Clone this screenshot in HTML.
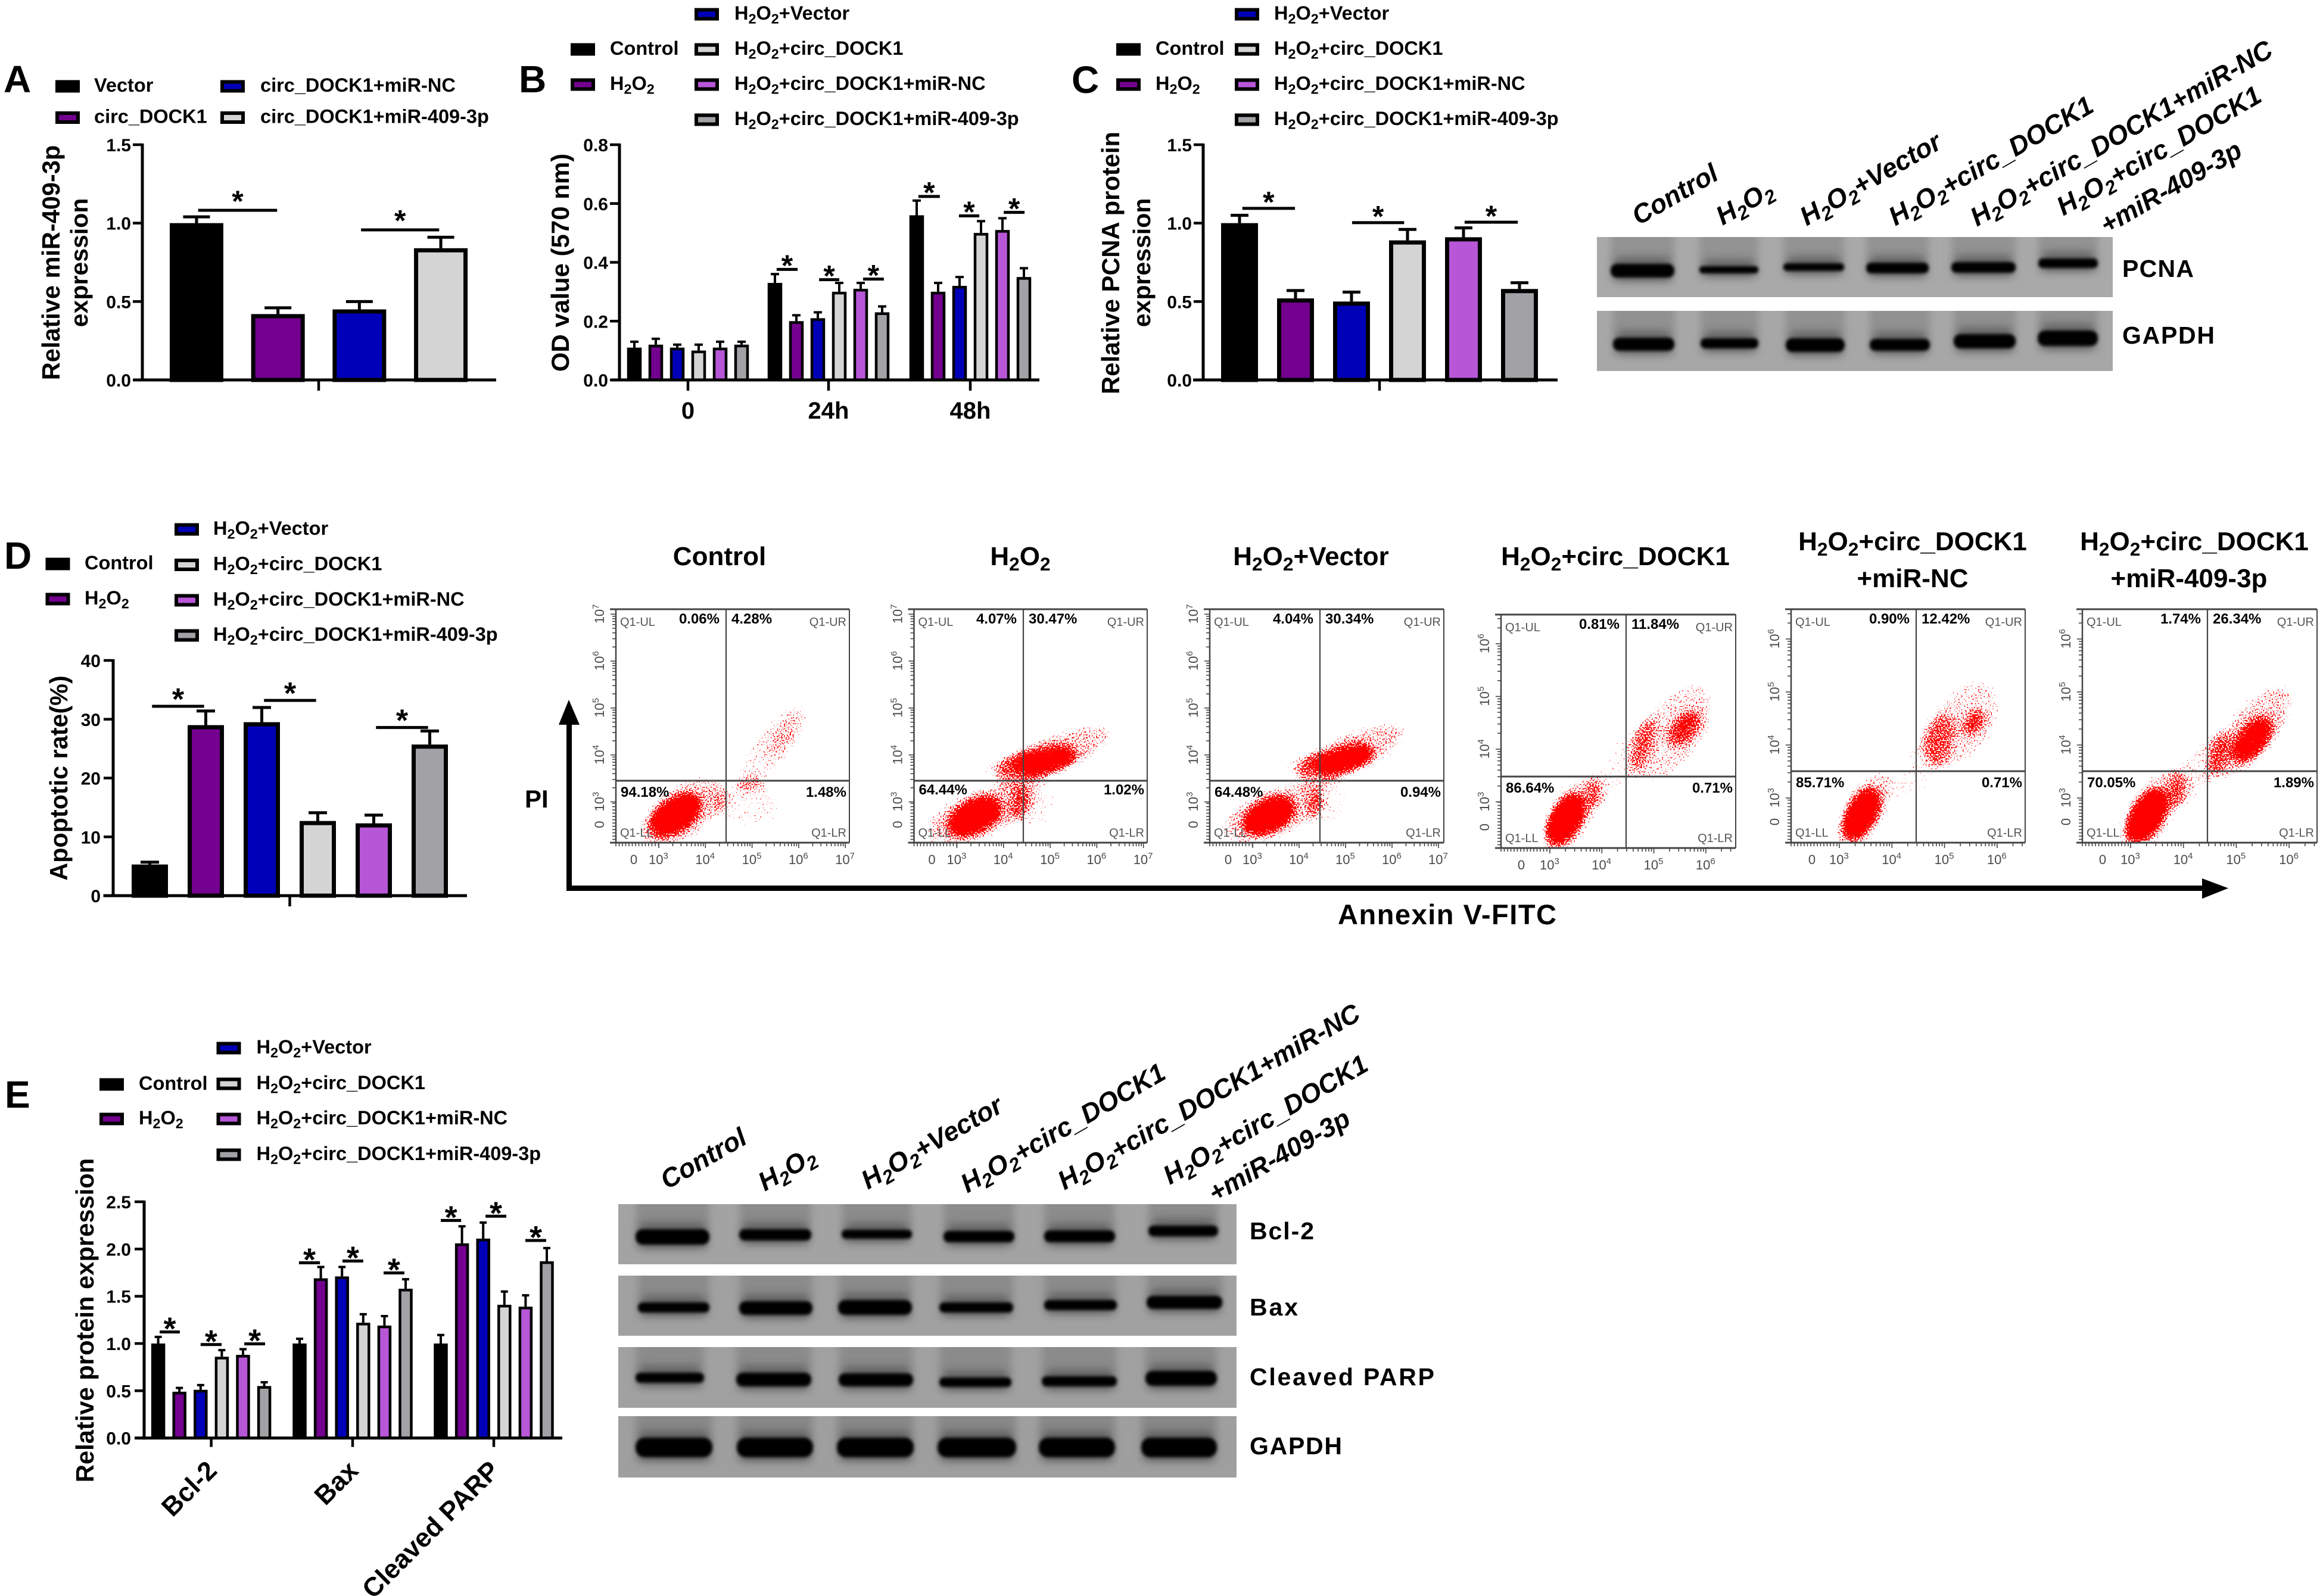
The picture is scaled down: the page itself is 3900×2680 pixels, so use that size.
<!DOCTYPE html>
<html lang="en">
<head>
<meta charset="utf-8">
<title>circ_DOCK1 and miR-409-3p composite figure</title>
<style>
html,body{margin:0;padding:0;background:#fff}
svg{display:block;font-family:"Liberation Sans",Arial,sans-serif}
</style>
</head>
<body>
<svg id="fig" xmlns="http://www.w3.org/2000/svg" width="3900" height="2680" viewBox="0 0 3900 2680">
<defs>
<filter id="speckle" x="-15%" y="-15%" width="130%" height="130%" color-interpolation-filters="sRGB">
<feGaussianBlur in="SourceAlpha" stdDeviation="9" result="d"/>
<feTurbulence type="fractalNoise" baseFrequency="0.42" numOctaves="1" seed="7" result="t"/>
<feColorMatrix in="t" type="matrix" values="0 0 0 0 0 0 0 0 0 0 0 0 0 0 0 1 0 0 0 0" result="n"/>
<feComposite in="d" in2="n" operator="arithmetic" k1="0" k2="1" k3="1" k4="-1.0" result="m"/>
<feComponentTransfer in="m" result="mm"><feFuncA type="linear" slope="14" intercept="0"/></feComponentTransfer>
<feFlood flood-color="#ff0000"/>
<feComposite in2="mm" operator="in"/>
</filter>
<filter id="blurBand" x="-20%" y="-60%" width="140%" height="220%"><feGaussianBlur stdDeviation="2.6"/></filter>
<filter id="blurGlow" x="-30%" y="-100%" width="160%" height="300%"><feGaussianBlur stdDeviation="7"/></filter>
<filter id="blurLane" x="-30%" y="-30%" width="160%" height="160%"><feGaussianBlur stdDeviation="6"/></filter>
</defs>
<rect x="0" y="0" width="3900" height="2680" fill="#ffffff"/>
<text x="6" y="155" font-size="64" font-weight="700">A</text>
<text x="871" y="155" font-size="64" font-weight="700">B</text>
<text x="1799" y="156" font-size="64" font-weight="700">C</text>
<text x="7" y="955" font-size="64" font-weight="700">D</text>
<text x="8" y="1860" font-size="64" font-weight="700">E</text>
<g>
<rect x="951" y="1205" width="9" height="291" fill="#000"/>
<polygon points="955,1175 973,1217 938,1217" fill="#000"/>
</g>
<g>
<rect x="951" y="1487" width="2750" height="9" fill="#000"/>
<polygon points="3741,1491.5 3697,1475 3697,1509" fill="#000"/>
</g>
<text x="881" y="1356" font-size="42" font-weight="700">PI</text>
<text x="2246" y="1552" font-size="47" font-weight="700" textLength="367">Annexin V-FITC</text>
<g id="charts"></g>
<g id="flows"></g>
<g id="blots"></g>
</svg>
<script>
/* ---------- shared series ---------- */
const seriesNames = ["Control","H2O2","H2O2+Vector","H2O2+circ_DOCK1","H2O2+circ_DOCK1+miR-NC","H2O2+circ_DOCK1+miR-409-3p"];
const seriesColors = ["#000000","#73008f","#0000b8","#d4d4d4","#b856d8","#a2a2a6"];
const aNames = ["Vector","circ_DOCK1","circ_DOCK1+miR-NC","circ_DOCK1+miR-409-3p"];

/* ---------- panel A ---------- */
const aTicks = ["0.0","0.5","1.0","1.5"];
const aValues = [1.0,0.42,0.45,0.84];
const aErrTops = [1.04,0.46,0.50,0.91];
const aSig = [[0,0.02,0.99,1.082],[0,2.02,2.98,0.957]];

/* ---------- panel B ---------- */
const bTicks = ["0.0","0.2","0.4","0.6","0.8"];
const bCats = ["0","24h","48h"];
const bValues = [[0.11,0.12,0.11,0.10,0.11,0.12],[0.33,0.20,0.21,0.30,0.31,0.23],[0.56,0.30,0.32,0.50,0.51,0.35]];
const bErrTops = [[0.13,0.14,0.12,0.12,0.13,0.13],[0.36,0.22,0.23,0.33,0.33,0.25],[0.61,0.33,0.35,0.54,0.55,0.38]];
const bSig = [[1,0.08,1.06,0.376],[1,2.06,3.0,0.341],[1,4.11,5.08,0.343],[2,0.08,1.08,0.624],[2,1.97,2.92,0.558],[2,4.06,5.03,0.570]];

/* ---------- panel C ---------- */
const cTicks = ["0.0","0.5","1.0","1.5"];
const cValues = [1.0,0.52,0.50,0.89,0.91,0.58];
const cErrTops = [1.05,0.57,0.56,0.96,0.97,0.62];
const cSig = [[0,0.05,0.99,1.094],[0,2.01,2.94,1.003],[0,4.02,4.97,1.006]];

/* ---------- panel D ---------- */
const dTicks = ["0","10","20","30","40"];
const dValues = [5.3,29,29.5,12.7,12.3,25.7];
const dErrTops = [5.7,31.4,32,14.1,13.7,28];
const dSig = [[0,0.04,0.97,32.2],[0,2.04,2.97,33.2],[0,4.04,4.97,28.6]];

/* ---------- panel E ---------- */
const eTicks = ["0.0","0.5","1.0","1.5","2.0","2.5"];
const eCats = ["Bcl-2","Bax","Cleaved PARP"];
const eValues = [[1.0,0.49,0.51,0.86,0.88,0.55],[1.0,1.69,1.71,1.22,1.19,1.58],[1.0,2.06,2.11,1.41,1.39,1.87]];
const eErrTops = [[1.07,0.53,0.56,0.93,0.94,0.59],[1.05,1.81,1.81,1.31,1.29,1.68],[1.09,2.24,2.28,1.55,1.51,2.01]];
const eSig = [[0,0.07,1.02,1.122],[0,2.0,2.99,0.989],[0,4.06,5.04,0.996],[1,-0.03,0.96,1.854],[1,2.02,3.0,1.873],[1,3.96,4.94,1.747],[2,0,0.96,2.302],[2,2.11,3.09,2.347],[2,3.99,4.97,2.09]];

/* ---------- flow cytometry: gate percentages [UL,UR,LL,LR] ---------- */
const flowTitles = [["Control"],["H2O2"],["H2O2+Vector"],["H2O2+circ_DOCK1"],["H2O2+circ_DOCK1","+miR-NC"],["H2O2+circ_DOCK1","+miR-409-3p"]];
const flowPct = [["0.06%","4.28%","94.18%","1.48%"],["4.07%","30.47%","64.44%","1.02%"],["4.04%","30.34%","64.48%","0.94%"],["0.81%","11.84%","86.64%","0.71%"],["0.90%","12.42%","85.71%","0.71%"],["1.74%","26.34%","70.05%","1.89%"]];
/* density clusters: [log10 x, log10 y, x spread, y spread, tilt deg, density] */
const flowClusters = [
 [[3.36,2.72,0.58,0.30,-35,1],[3.50,2.78,1.10,0.60,-35,0.44],[5.45,4.20,1.20,0.46,-52,0.37],[5.70,4.40,0.50,0.20,-50,0.16],[4.98,2.92,0.75,0.55,0,0.33]],
 [[3.38,2.69,0.58,0.29,-28,1],[3.45,2.72,1.25,0.58,-22,0.44],[4.90,3.87,0.66,0.24,-15,0.80],[5.10,4.02,1.35,0.48,-22,0.44],[4.10,3.81,0.65,0.24,-15,0.38],[4.68,2.92,0.55,0.55,0,0.33]],
 [[3.35,2.71,0.56,0.29,-28,1],[3.42,2.74,1.20,0.58,-22,0.44],[4.97,3.90,0.64,0.24,-18,0.80],[5.15,4.05,1.30,0.48,-24,0.44],[4.15,3.81,0.55,0.24,-15,0.38],[4.68,2.92,0.50,0.55,0,0.32]],
 [[3.30,2.67,0.50,0.25,-60,1],[3.40,2.75,0.90,0.46,-60,0.42],[5.59,4.40,0.40,0.22,-50,0.50],[5.37,4.33,1.15,0.62,-55,0.39],[4.37,3.72,1.05,0.38,-55,0.33]],
 [[3.42,2.70,0.50,0.24,-62,1],[3.48,2.76,0.90,0.44,-60,0.42],[5.56,4.43,0.28,0.15,-60,0.50],[5.34,4.40,1.00,0.62,-55,0.39],[4.63,3.75,0.95,0.38,-60,0.32]],
 [[3.31,2.67,0.54,0.26,-58,1],[3.40,2.75,0.95,0.48,-58,0.42],[5.30,4.10,0.50,0.24,-50,0.72],[5.30,4.26,1.15,0.52,-50,0.42],[4.30,3.55,0.85,0.38,-55,0.36]]
];

/* ---------- helpers ---------- */
const NS = "http://www.w3.org/2000/svg";
const svgRoot = document.getElementById("fig");
const chartsLayer = document.getElementById("charts");
const flowsLayer = document.getElementById("flows");
const blotsLayer = document.getElementById("blots");

function el(tag, attrs, parent){
  const e = document.createElementNS(NS, tag);
  for (const k in attrs) e.setAttribute(k, attrs[k]);
  parent.appendChild(e);
  return e;
}
function rich(e, str, fs){
  const d = fs * 0.2;
  let cur = 0;
  function add(txt, off, small){
    const t = document.createElementNS(NS, "tspan");
    t.textContent = txt;
    if (off !== cur) t.setAttribute("dy", off - cur);
    if (small) t.setAttribute("font-size", fs * 0.72);
    cur = off;
    e.appendChild(t);
  }
  str.split(/(H2O2)/).forEach(function(part){
    if (part === "H2O2"){ add("H",0); add("2",d,true); add("O",0); add("2",d,true); }
    else if (part) add(part,0);
  });
}
function label(parent, x, y, str, fs, opt){
  opt = opt || {};
  const a = {x:x, y:y, "font-size":fs, "font-weight":opt.weight || 700, fill:opt.fill || "#000"};
  if (opt.anchor) a["text-anchor"] = opt.anchor;
  if (opt.rot !== undefined) a.transform = "rotate(" + opt.rot + " " + x + " " + y + ")";
  if (opt.italic) a["font-style"] = "italic";
  if (opt.len) a.textLength = opt.len;
  const t = el("text", a, parent);
  rich(t, str, fs);
  return t;
}
function swatch(parent, x, cy, color){
  const r = el("rect", {x:x+3, y:cy-7.5, width:35, height:15, fill:color, stroke:"#000", "stroke-width":6}, parent);
  return r;
}
function legendEntry(parent, panel, idx, names, colors, x, tx, cy){
  const g = el("g", {}, parent);
  
  
  const s = swatch(g, x, cy, colors[idx]);
  
  
  const t = label(g, tx, cy + 9, names[idx], 32.5);
  
  
}
function legendSix(parent, panel, c1, t1, c2, t2, rows, r1, r2){
  legendEntry(parent, panel, 0, seriesNames, seriesColors, c1, t1, r1);
  legendEntry(parent, panel, 1, seriesNames, seriesColors, c1, t1, r2);
  for (let i = 0; i < 4; i++) legendEntry(parent, panel, i + 2, seriesNames, seriesColors, c2, t2, rows[i]);
}

function barChart(p){
  const g = el("g", {}, chartsLayer);
  
  
  const domainMax = parseFloat(p.ticks[p.ticks.length - 1]);
  const yScale = function(v){ return p.y0 - (v / domainMax) * (p.y0 - p.yTop); };
  const nBars = p.values[0].length;
  const xScale = function(group, j){ return p.centers[group] + (j - (nBars - 1) / 2) * p.spacing; };

  p.values.forEach(function(vals, gi){
    vals.forEach(function(v, j){
      const cx = xScale(gi, j);
      const top = yScale(p.errs[gi][j]);
      const stem = el("line", {x1:cx, x2:cx, y1:yScale(v), y2:top, stroke:"#000", "stroke-width":p.errW}, g);
      
      
      const cap = el("line", {x1:cx - p.capW / 2, x2:cx + p.capW / 2, y1:top, y2:top, stroke:"#000", "stroke-width":p.errW}, g);
      
      
      const h = p.y0 - yScale(v);
      const bar = el("rect", {x:cx - p.barW / 2 + p.sw / 2, y:yScale(v) + p.sw / 2, width:p.barW - p.sw, height:Math.max(h - p.sw / 2, 0), fill:seriesOrder(p, j), stroke:"#000", "stroke-width":p.sw}, g);
      
      
    });
  });

  const yAxis = el("line", {x1:p.axisX, x2:p.axisX, y1:p.yTop - 2, y2:p.y0 + 2.5, stroke:"#000", "stroke-width":5}, g);
  
  
  const xAxis = el("line", {x1:p.xL, x2:p.xR, y1:p.y0, y2:p.y0, stroke:"#000", "stroke-width":5}, g);
  
  

  p.ticks.forEach(function(tk){
    const y = yScale(parseFloat(tk));
    const m = el("line", {x1:p.axisX - 16, x2:p.axisX, y1:y, y2:y, stroke:"#000", "stroke-width":4.5}, g);
    
    
    const t = label(g, p.axisX - p.tickGap, y + 11, tk, 30, {anchor:"end"});
    
    
  });
  p.centers.forEach(function(c, i){
    const m = el("line", {x1:c, x2:c, y1:p.y0, y2:p.y0 + p.xTick, stroke:"#000", "stroke-width":4.5}, g);
    
    
    if (p.cats && p.catRot === undefined){
      const t = label(g, c, p.catY, p.cats[i], 40, {anchor:"middle"});
      
      
    }
    if (p.cats && p.catRot !== undefined){
      const t = label(g, c + 12, p.catY, p.cats[i], 44.5, {anchor:"end", rot:p.catRot});
      
      
    }
  });
  p.sig.forEach(function(s, i){
    const x1 = xScale(s[0], s[1]);
    const x2 = xScale(s[0], s[2]);
    const y = yScale(s[3]);
    const b = el("line", {x1:x1, x2:x2, y1:y, y2:y, stroke:"#000", "stroke-width":5}, g);
    
    
    const st = label(g, (x1 + x2) / 2, y - p.starGap + 0.575 * p.starFs, "*", p.starFs, {anchor:"middle"});
    
    
  });
  p.titles.forEach(function(tl, i){
    const t = label(g, tl[1], tl[2], tl[0], tl[3], {anchor:"middle", rot:-90});
    
    
  });
}
function seriesOrder(p, j){ return seriesColors[j]; }

barChart({id:"a", axisX:239, y0:638, yTop:243, xL:224, xR:833, xTick:18, ticks:aTicks, centers:[535], spacing:136.7, barW:90, sw:7, capW:45, errW:5, values:[aValues], errs:[aErrTops], sig:aSig, starGap:27, starFs:50, tickGap:19, titles:[["Relative miR-409-3p",100,441,41.5],["expression",147,441,41]]});
barChart({id:"b", axisX:1040, y0:638, yTop:243, xL:1026, xR:1745, xTick:18, ticks:bTicks, centers:[1155,1391,1629], spacing:36, barW:24.5, sw:4.5, capW:14, errW:4, values:bValues, errs:bErrTops, sig:bSig, starGap:18, starFs:50, tickGap:19, cats:bCats, catY:703, titles:[["OD value (570 nm)",955,441,42]]});
barChart({id:"c", axisX:2020, y0:638, yTop:243, xL:2003, xR:2615, xTick:18, ticks:cTicks, centers:[2316], spacing:94, barW:62, sw:7, capW:30, errW:5, values:[cValues], errs:[cErrTops], sig:cSig, starGap:22, starFs:50, tickGap:19, titles:[["Relative PCNA protein",1879,441.5,41.7],["expression",1931,441,41]]});
barChart({id:"d", axisX:190, y0:1504, yTop:1109, xL:173.5, xR:784, xTick:18, ticks:dTicks, centers:[486.5], spacing:94, barW:61, sw:7, capW:31, errW:5, values:[dValues], errs:[dErrTops], sig:dSig, starGap:24, starFs:52, tickGap:21, titles:[["Apoptotic rate(%)",113,1306.5,41.3]]});
barChart({id:"e", axisX:242, y0:2414.7, yTop:2018, xL:226, xR:944, xTick:15, ticks:eTicks, centers:[354.6,592,829], spacing:35.6, barW:23.5, sw:4.5, capW:12, errW:4, values:eValues, errs:eErrTops, sig:eSig, starGap:18, starFs:54, tickGap:22, cats:eCats, catRot:-45, catY:2472, titles:[["Relative protein expression",157,2217,41.7]]});

const legendA = el("g", {}, chartsLayer);


legendEntry(legendA, "a", 0, aNames, seriesColors, 93, 158, 145);
legendEntry(legendA, "a", 1, aNames, seriesColors, 93, 158, 197.5);
legendEntry(legendA, "a", 2, aNames, seriesColors, 370, 437, 145);
legendEntry(legendA, "a", 3, aNames, seriesColors, 370, 437, 197.5);
const legendB = el("g", {}, chartsLayer);


legendSix(legendB, "b", 958, 1024, 1166, 1233, [24,83,142,201], 83, 142);
const legendC = el("g", {}, chartsLayer);


legendSix(legendC, "c", 1874, 1940, 2073, 2139, [24,83,142,201], 83, 142);
const legendD = el("g", {}, chartsLayer);


legendSix(legendD, "d", 76.5, 142, 293, 358, [889,948.5,1008,1067], 947, 1006);
const legendE = el("g", {}, chartsLayer);


legendSix(legendE, "e", 167, 233, 363.5, 430.5, [1760,1820,1879,1939], 1821, 1879);

/* ---------- flow cytometry plots ---------- */
function flowPlot(i, f){
  const g = el("g", {}, flowsLayer);
  
  
  const sx = function(v){ return f.x3 + (v - 3) * f.xd; };
  const sy = function(v){ return f.y3 - (v - 3) * f.yd; };

  const clipId = "flowClip" + i;
  const cp = el("clipPath", {id:clipId}, g);
  el("rect", {x:f.l, y:f.t, width:f.r - f.l, height:f.b - f.t}, cp);
  const clipG = el("g", {"clip-path":"url(#" + clipId + ")"}, g);
  
  
  const cloud = el("g", {filter:"url(#speckle)"}, clipG);
  
  
  el("rect", {x:f.l, y:f.t, width:f.r - f.l, height:f.b - f.t, fill:"#000", "fill-opacity":0.001}, cloud);
  flowClusters[i].forEach(function(c, k){
    const cx = sx(c[0]);
    const cy = sy(c[1]);
    const e = el("ellipse", {cx:cx, cy:cy, rx:c[2] * f.xd, ry:c[3] * f.yd, transform:"rotate(" + c[4] + " " + cx + " " + cy + ")", fill:"#000", "fill-opacity":c[5]}, cloud);
    
    
  });

  const axisColor = "#444444";
  const frameLines = [[f.l - 10,f.t,f.r,f.t,3,"frame-top"],[f.l - 10,f.b,f.r,f.b,3,"frame-bottom"],[f.l,f.t,f.l,f.b,2.5,"frame-left"],[f.r,f.t,f.r,f.b,2,"frame-right"],[f.gx,f.t,f.gx,f.b,2.2,"gate-vertical"],[f.l,f.gy,f.r,f.gy,3,"gate-horizontal"]];
  frameLines.forEach(function(a){
    const ln = el("line", {x1:a[0], y1:a[1], x2:a[2], y2:a[3], stroke:axisColor, "stroke-width":a[4]}, g);
    
    
  });

  const ticks = el("g", {stroke:axisColor, "stroke-width":1.6}, g);
  
  
  for (let d = 3; d <= f.maxDec; d++){
    for (let m = 1; m <= 9; m++){
      const vx = sx(d + Math.log10(m));
      if (vx <= f.r + 1) el("line", {x1:vx, x2:vx, y1:f.b, y2:f.b + (m === 1 ? 9 : 6)}, ticks);
      const vy = sy(d + Math.log10(m));
      if (vy >= f.t - 1) el("line", {y1:vy, y2:vy, x1:f.l, x2:f.l - (m === 1 ? 9 : 6)}, ticks);
    }
  }
  for (let x = f.l; x < f.x3; x += 5.5) el("line", {x1:x, x2:x, y1:f.b, y2:f.b + 6}, ticks);
  for (let y = f.b; y > f.y3; y -= 5.5) el("line", {y1:y, y2:y, x1:f.l, x2:f.l - 6}, ticks);

  const tx0 = label(g, f.x0, f.b + 36, "0", 22, {weight:400, fill:"#4a4a4a", anchor:"middle"});
  
  
  const ty0 = label(g, f.l - 20, f.y0, "0", 22, {weight:400, fill:"#4a4a4a", anchor:"middle", rot:-90});
  
  
  for (let d = 3; d <= f.maxDec; d++){
    const xt = label(g, sx(d) - 17, f.b + 36, "10", 22, {weight:400, fill:"#4a4a4a"});
    const sup1 = el("tspan", {dy:-9, "font-size":15}, xt);
    sup1.textContent = String(d);
    
    
    const ylx = f.l - 20;
    const yly = sy(d) + 16;
    const yt = label(g, ylx, yly, "10", 22, {weight:400, fill:"#4a4a4a", rot:-90});
    const sup2 = el("tspan", {dy:-9, "font-size":15}, yt);
    sup2.textContent = String(d);
    
    
  }

  const pct = flowPct[i];
  const pUL = label(g, f.gx - 11, f.t + 24, pct[0], 24, {anchor:"end"});
  
  
  const pUR = label(g, f.gx + 9, f.t + 24, pct[1], 24);
  
  
  const pLL = label(g, f.l + 8, f.gy + f.pctDy + 9, pct[2], 24);
  
  
  const pLR = label(g, f.r - 5, f.gy + f.pctDy + 9, pct[3], 24, {anchor:"end"});
  
  

  const gray = {weight:400, fill:"#555"};
  const qUL = label(g, f.l + 7, f.t + 28, "Q1-UL", 20, gray);
  
  
  const qUR = label(g, f.r - 5, f.t + 28, "Q1-UR", 20, {weight:400, fill:"#555", anchor:"end"});
  
  
  const qLL = label(g, f.l + 7, f.b - 10, "Q1-LL", 20, gray);
  
  
  const qLR = label(g, f.r - 5, f.b - 10, "Q1-LR", 20, {weight:400, fill:"#555", anchor:"end"});
  
  

  flowTitles[i].forEach(function(line, k){
    const t = label(g, f.titleX[k], f.titleY[k] + 15, line, 44, {anchor:"middle"});
    
    
  });
}
flowPlot(0, {l:1034,r:1426,t:1023,b:1415,gx:1219,gy:1311,x3:1106,xd:78.3,y3:1346.5,yd:78.8,x0:1064,y0:1384.5,maxDec:7,pctDy:18,titleX:[1208],titleY:[934]});
flowPlot(1, {l:1534.5,r:1926,t:1023,b:1415,gx:1718,gy:1311,x3:1606.5,xd:78.3,y3:1346.5,yd:78.8,x0:1564.5,y0:1384.5,maxDec:7,pctDy:14,titleX:[1713],titleY:[934]});
flowPlot(2, {l:2031,r:2424,t:1023,b:1415,gx:2216,gy:1311,x3:2103,xd:78,y3:1346.5,yd:78.8,x0:2062,y0:1384.5,maxDec:7,pctDy:18,titleX:[2201],titleY:[934]});
flowPlot(3, {l:2520,r:2914,t:1032,b:1424,gx:2730,gy:1304,x3:2602,xd:87.3,y3:1346.5,yd:88.5,x0:2554,y0:1389,maxDec:6,pctDy:18,titleX:[2712],titleY:[934]});
flowPlot(4, {l:3007,r:3400,t:1023,b:1415,gx:3217,gy:1295,x3:3088,xd:88.3,y3:1340,yd:89,x0:3042,y0:1380,maxDec:6,pctDy:18,titleX:[3211,3211],titleY:[909,971]});
flowPlot(5, {l:3496,r:3890,t:1023,b:1415,gx:3706,gy:1295,x3:3577,xd:88.7,y3:1340,yd:89,x0:3530,y0:1380,maxDec:6,pctDy:18,titleX:[3684,3675],titleY:[909,971]});

/* ---------- western blots ---------- */
function blot(name, x, y, w, h, base, lane, text, tx, ty, len, bands){
  const g = el("g", {}, blotsLayer);
  
  
  const id = "clip-" + name;
  const cp = el("clipPath", {id:id}, g);
  el("rect", {x:x, y:y, width:w, height:h}, cp);
  const inner = el("g", {"clip-path":"url(#" + id + ")"}, g);
  
  
  const bg = el("rect", {x:x, y:y, width:w, height:h, fill:base}, inner);
  
  
  bands.forEach(function(b, i){
    const sm = el("rect", {x:b[0], y:y - 30, width:b[1] - b[0], height:b[3] - y + 38, fill:lane, filter:"url(#blurLane)"}, inner);
    
    
    const gl = el("rect", {x:b[0] + 6, y:b[2] - 12, width:b[1] - b[0] - 12, height:b[3] - b[2] + 18, rx:10, fill:"#444", "fill-opacity":0.55, filter:"url(#blurGlow)"}, inner);
    
    
  });
  bands.forEach(function(b, i){
    const r = el("rect", {x:b[0], y:b[2], width:b[1] - b[0], height:b[3] - b[2], rx:(b[3] - b[2]) / 2.2, fill:"#060606", filter:"url(#blurBand)"}, inner);
    
    
  });
  const t = label(g, tx, ty + 13, text, 41, {len:len});
  
  
}
blot("pcna",2681,398,866,101,"#a9a9a9","#939393","PCNA",3563,452,120,[[2704,2811,443,466],[2853,2952,447,459],[2994,3096,442,455],[3133,3238,441,459],[3276,3384,440,458],[3422,3522,434,450]]);
blot("gapdh-top",2681,522,866,101,"#a7a7a7","#919191","GAPDH",3563,564,155,[[2708,2811,567,589],[2855,2952,568,585],[2998,3097,568,591],[3139,3240,569,589],[3280,3384,561,585],[3421,3522,555,581]]);
blot("bcl-2",1038,2022,1038,101,"#a3a3a3","#8c8c8c","Bcl-2",2098,2068,108,[[1067,1191,2064,2090],[1241,1362,2064,2083],[1413,1531,2065,2080],[1584,1703,2067,2086],[1753,1872,2066,2086],[1928,2045,2058,2076]]);
blot("bax",1038,2142,1038,101,"#a1a1a1","#8b8b8b","Bax",2098,2196,81,[[1071,1191,2187,2204],[1241,1364,2185,2208],[1407,1531,2183,2208],[1577,1701,2187,2204],[1753,1875,2183,2200],[1925,2052,2176,2198]]);
blot("cleaved-parp",1038,2262,1038,102,"#a1a1a1","#8b8b8b","Cleaved PARP",2098,2313,310,[[1067,1182,2305,2322],[1236,1362,2305,2328],[1408,1533,2306,2328],[1577,1698,2313,2329],[1749,1875,2311,2328],[1923,2043,2302,2327]]);
blot("gapdh-bottom",1038,2378,1038,103,"#9f9f9f","#888888","GAPDH",2098,2429,155,[[1067,1196,2414,2447],[1237,1365,2414,2447],[1405,1534,2414,2447],[1574,1706,2414,2447],[1744,1872,2414,2447],[1916,2043,2414,2447]]);

function laneLabel(set, i, x, y, str){
  const t = label(blotsLayer, x, y, str, 44.5, {rot:-30, italic:true});
  
  
}
laneLabel("pcna", 0, 2751, 379, "Control");
laneLabel("pcna", 1, 2892, 379, "H2O2");
laneLabel("pcna", 2, 3033, 380, "H2O2+Vector");
laneLabel("pcna", 3, 3182, 380, "H2O2+circ_DOCK1");
laneLabel("pcna", 4, 3319, 381, "H2O2+circ_DOCK1+miR-NC");
laneLabel("pcna", 5, 3464, 363, "H2O2+circ_DOCK1");
laneLabel("pcna", 6, 3537, 394, "+miR-409-3p");
laneLabel("protein", 0, 1120, 1998, "Control");
laneLabel("protein", 1, 1284, 2001, "H2O2");
laneLabel("protein", 2, 1457, 1998, "H2O2+Vector");
laneLabel("protein", 3, 1624, 2004, "H2O2+circ_DOCK1");
laneLabel("protein", 4, 1787, 1999, "H2O2+circ_DOCK1+miR-NC");
laneLabel("protein", 5, 1964, 1990, "H2O2+circ_DOCK1");
laneLabel("protein", 6, 2040, 2020, "+miR-409-3p");
</script>
</body>
</html>
